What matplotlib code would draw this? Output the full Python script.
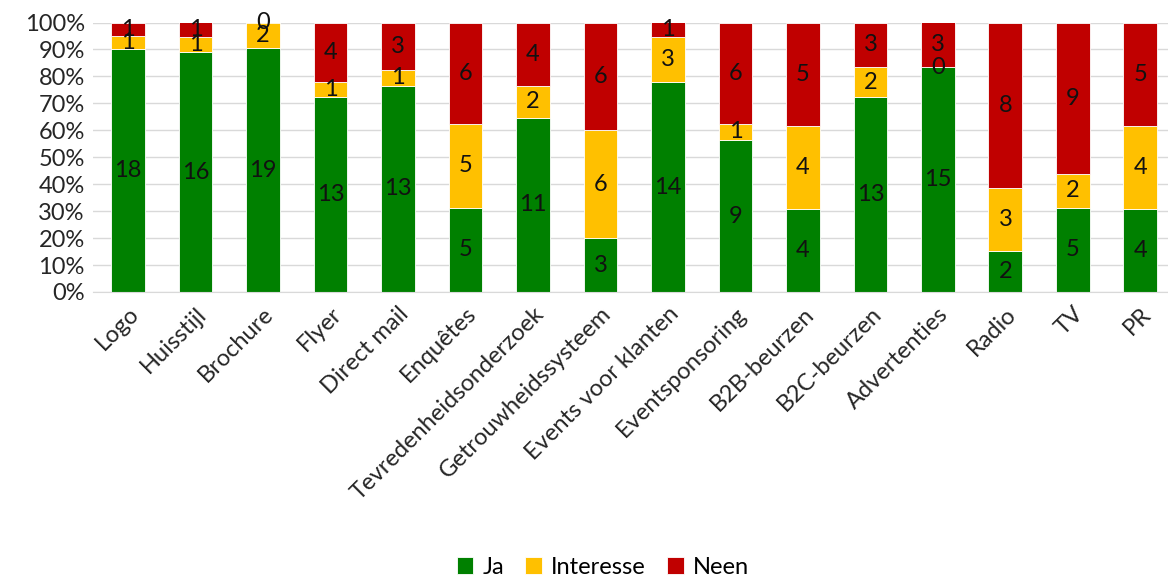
import matplotlib.pyplot as plt
import numpy as np
from matplotlib.ticker import PercentFormatter

plt.rcParams['font.family'] = ['Lato', 'DejaVu Sans']

categories = ["Logo", "Huisstijl", "Brochure", "Flyer", "Direct mail", "Enquêtes",
              "Tevredenheidsonderzoek", "Getrouwheidssysteem", "Events voor klanten",
              "Eventsponsoring", "B2B-beurzen", "B2C-beurzen", "Advertenties",
              "Radio", "TV", "PR"]
ja = [18, 16, 19, 13, 13, 5, 11, 3, 14, 9, 4, 13, 15, 2, 5, 4]
interesse = [1, 1, 2, 1, 1, 5, 2, 6, 3, 1, 4, 2, 0, 3, 2, 4]
neen = [1, 1, 0, 4, 3, 6, 4, 6, 1, 6, 5, 3, 3, 8, 9, 5]

series = [("Ja", ja, "#008000"),
          ("Interesse", interesse, "#FFC000"),
          ("Neen", neen, "#C00000")]

totals = np.array(ja) + np.array(interesse) + np.array(neen)
x = np.arange(len(categories))

fig = plt.figure(figsize=(11.68, 5.81), dpi=100)
ax = fig.add_axes([93 / 1168, 1 - 292 / 581, 1 - 93 / 1168, (292 - 22.5) / 581])

bottom = np.zeros(len(categories))
for name, vals, color in series:
    share = np.array(vals) / totals * 100
    ax.bar(x, share, 0.5, bottom=bottom, color=color, edgecolor="white",
           linewidth=0.6, label=name, zorder=2)
    for xi, b, s, v in zip(x, bottom, share, vals):
        ax.text(xi, b + s / 2, str(v), ha="center", va="center",
                fontsize=17, color="#111111", zorder=3)
    bottom += share

ax.set_ylim(0, 100)
ax.set_xlim(-0.52, 15.41)
ax.set_yticks(range(0, 101, 10))
ax.yaxis.set_major_formatter(PercentFormatter(decimals=0))
ax.grid(axis="y", color="#D9D9D9", linewidth=1, zorder=0)
for side in ["top", "right", "left"]:
    ax.spines[side].set_visible(False)
ax.spines["bottom"].set_color("#D9D9D9")
ax.tick_params(length=0, labelsize=17, colors="#262626", pad=6)
ax.tick_params(axis="x", pad=8)
ax.set_xticks(x)
ax.set_xticklabels(categories, rotation=45, ha="right", rotation_mode="anchor")

fig.legend(loc="center", bbox_to_anchor=(603 / 1168, 1 - 567 / 581), ncol=3,
           frameon=False, fontsize=17, handlelength=0.7, handleheight=0.7,
           handletextpad=0.4, columnspacing=0.9)

fig.savefig("out.png", dpi=100)
